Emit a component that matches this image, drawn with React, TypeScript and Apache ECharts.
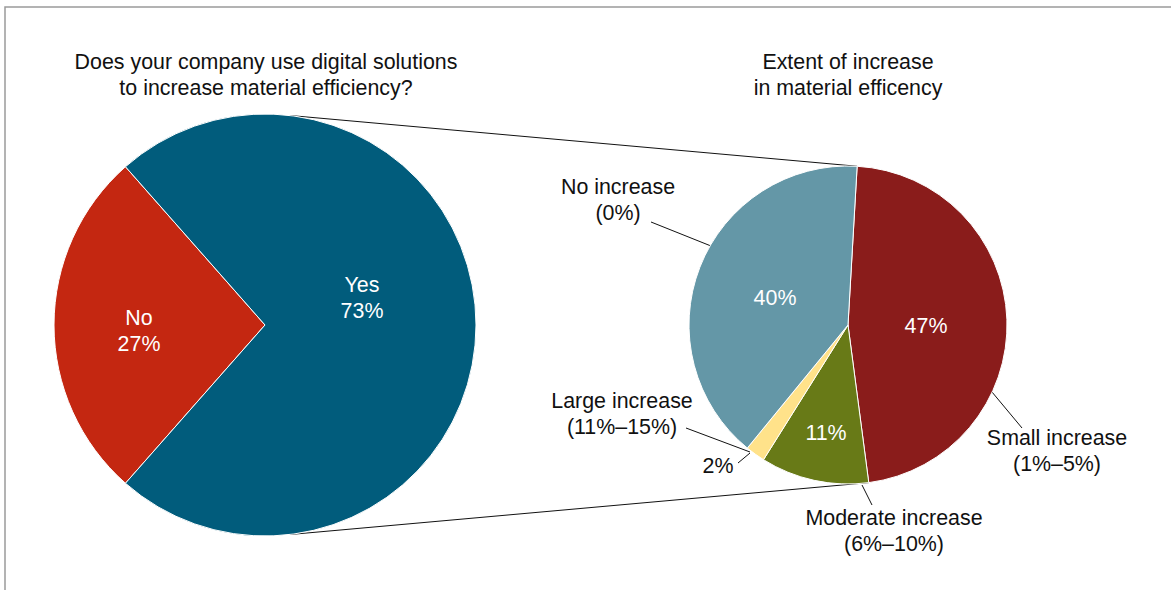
import React, { useEffect, useRef } from 'react';
import * as echarts from 'echarts';

// ---- data ----
const useCategories = ['No', 'Yes'];
const useValues = [27, 73];
const extentCategories = ['Small increase', 'Moderate increase', 'Large increase', 'No increase'];
const extentRanges = ['(1%–5%)', '(6%–10%)', '(11%–15%)', '(0%)'];
const extentValues = [47, 11, 2, 40];

const leftTitle = 'Does your company use digital solutions\nto increase material efficiency?';
const rightTitle = 'Extent of increase\nin material efficency';

// ---- styles / layout ----
const useColors = ['#c42711', '#015c7c'];
const extentColors = ['#8a1c1b', '#687a17', '#ffe28a', '#6497a7'];
const W = 1171;
const H = 590;
const LC = [265, 325];
const LR = 211;
const RC = [848, 325];
const RR = 159;
const FONT = '"Liberation Sans", Arial, Helvetica, sans-serif';
const FS = 21.4;
const LH = 26;

const leftInsidePos = [[139, 331], [362, 298]];
const rightInsidePos: (number[] | null)[] = [[926, 326], [826, 433], [718, 466], [775, 298]];
const yellowPctLine = [[750, 453], [744, 458], [738, 463]];
const rightOutsidePos = [[1057, 451], [894, 531], [622, 414], [618, 200]];
const rightOutsideLines = [
  [[992, 392], [1007, 410], [1022, 428]],
  [[862, 485], [867, 495], [872, 505]],
  [[750, 452], [718, 440], [686, 428]],
  [[711, 246], [681, 234], [651, 222]],
];

export default function App() {
  const ref = useRef<HTMLDivElement>(null);
  useEffect(() => {
    const chart = echarts.init(ref.current!, null, { renderer: 'svg' });
    const useSum = useValues.reduce((a, b) => a + b, 0);
    const extSum = extentValues.reduce((a, b) => a + b, 0);
    const leftStart = 180 + (useValues[0] / useSum) * 180;
    const rightStart = 86.7;
    const rightBottomAngle = rightStart - (extentValues[0] / extSum) * 360;
    const leftConnAngle = 83.2;
    const pt = (c: number[], r: number, deg: number) => [
      c[0] + r * Math.cos((deg * Math.PI) / 180),
      c[1] - r * Math.sin((deg * Math.PI) / 180),
    ];
    const lt = pt(LC, LR, leftConnAngle);
    const lb = pt(LC, LR, -leftConnAngle);
    const rt = pt(RC, RR, rightStart);
    const rb = pt(RC, RR, rightBottomAngle);

    const option: any = {
      animation: false,
      backgroundColor: '#ffffff',
      textStyle: { fontFamily: FONT },
      graphic: [
        {
          type: 'rect',
          shape: { x: 5, y: 7, width: 1400, height: 800 },
          style: { fill: 'none', stroke: '#9b9b9b', lineWidth: 1.5 },
          silent: true,
          z: 0,
        },
        {
          type: 'text',
          x: LC[0] + 1,
          y: 75,
          style: {
            text: leftTitle,
            align: 'center',
            verticalAlign: 'middle',
            font: `${FS}px ${FONT}`,
            lineHeight: LH,
            fill: '#111',
          },
        },
        {
          type: 'text',
          x: RC[0],
          y: 75,
          style: {
            text: rightTitle,
            align: 'center',
            verticalAlign: 'middle',
            font: `${FS}px ${FONT}`,
            lineHeight: LH,
            fill: '#111',
          },
        },
        {
          type: 'line',
          shape: { x1: lt[0], y1: lt[1], x2: rt[0], y2: rt[1] },
          style: { stroke: '#111', lineWidth: 1 },
          z: 0,
        },
        {
          type: 'line',
          shape: { x1: lb[0], y1: lb[1], x2: rb[0], y2: rb[1] },
          style: { stroke: '#111', lineWidth: 1 },
          z: 0,
        },
      ],
      series: [
        {
          type: 'pie',
          center: LC,
          radius: LR,
          startAngle: leftStart,
          clockwise: true,
          avoidLabelOverlap: false,
          itemStyle: { borderColor: '#fff', borderWidth: 1 },
          label: {
            show: true,
            position: 'inside',
            color: '#fff',
            fontSize: FS,
            lineHeight: LH,
            fontFamily: FONT,
            formatter: (p: any) => `${p.name}\n${p.value}%`,
          },
          labelLine: { show: false },
          labelLayout: (p: any) => {
            const pos = leftInsidePos[p.dataIndex];
            return { x: pos[0], y: pos[1], align: 'center', verticalAlign: 'middle' };
          },
          data: useCategories.map((n, i) => ({
            name: n,
            value: useValues[i],
            itemStyle: { color: useColors[i] },
          })),
        },
        {
          type: 'pie',
          center: RC,
          radius: RR,
          startAngle: rightStart,
          clockwise: true,
          avoidLabelOverlap: false,
          itemStyle: { borderColor: '#fff', borderWidth: 1 },
          label: {
            show: true,
            position: 'inside',
            color: '#fff',
            fontSize: FS,
            lineHeight: LH,
            fontFamily: FONT,
            formatter: (p: any) => `${p.value}%`,
          },
          labelLine: { show: false },
          labelLayout: (p: any) => {
            const pos = rightInsidePos[p.dataIndex]!;
            const r: any = { x: pos[0], y: pos[1], align: 'center', verticalAlign: 'middle' };
            if (p.dataIndex === 2) r.labelLinePoints = yellowPctLine;
            return r;
          },
          data: extentCategories.map((n, i) => {
            const d: any = {
              name: n,
              value: extentValues[i],
              itemStyle: { color: extentColors[i] },
            };
            if (i === 2) {
              d.label = { position: 'outside', color: '#111' };
              d.labelLine = { show: true, length: 8, length2: 0, lineStyle: { color: '#111', width: 1 } };
            }
            return d;
          }),
        },
        {
          type: 'pie',
          center: RC,
          radius: RR,
          startAngle: rightStart,
          clockwise: true,
          silent: true,
          avoidLabelOverlap: false,
          itemStyle: { color: 'rgba(0,0,0,0)', borderWidth: 0 },
          emphasis: { disabled: true },
          label: {
            show: true,
            position: 'outside',
            color: '#111',
            fontSize: FS,
            lineHeight: LH,
            fontFamily: FONT,
            formatter: (p: any) => `${p.name}\n${extentRanges[p.dataIndex]}`,
          },
          labelLine: { show: true, length: 10, length2: 0, lineStyle: { color: '#111', width: 1 } },
          labelLayout: (p: any) => {
            const pos = rightOutsidePos[p.dataIndex];
            return {
              x: pos[0],
              y: pos[1],
              align: 'center',
              verticalAlign: 'middle',
              labelLinePoints: rightOutsideLines[p.dataIndex],
            };
          },
          data: extentCategories.map((n, i) => ({ name: n, value: extentValues[i] })),
        },
      ],
    };
    chart.setOption(option);
    return () => chart.dispose();
  }, []);
  return (
    <div
      ref={ref}
      style={{ position: 'fixed', left: 0, top: 0, width: W, height: H, background: '#fff' }}
    />
  );
}
